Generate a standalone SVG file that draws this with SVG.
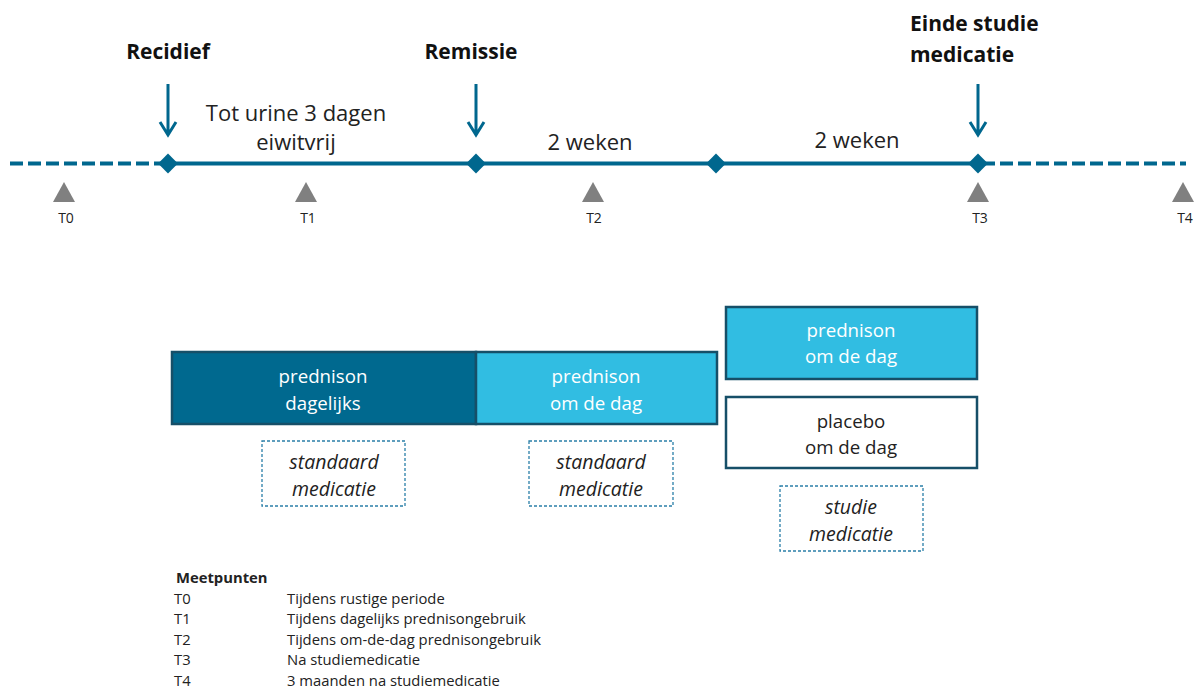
<svg xmlns="http://www.w3.org/2000/svg" width="1196" height="690" viewBox="0 0 1196 690">
<style>
text{font-family:"Open Sans","Noto Sans","Liberation Sans",sans-serif;}
.evt{font-size:21px;font-weight:bold;fill:#111;text-anchor:middle;}
.evl{font-size:21px;font-weight:bold;fill:#111;}
.dur{font-size:22px;fill:#222;text-anchor:middle;}
.tl{font-size:14px;fill:#222;text-anchor:middle;}
.bx{font-size:18.7px;text-anchor:middle;}
.w{fill:#fff;}
.k{fill:#222;}
.it{font-size:19.5px;font-style:italic;fill:#222;text-anchor:middle;}
.lg{font-size:14.8px;fill:#222;}
.line{stroke:#00678E;stroke-width:4;fill:none;}
.dash{stroke:#00678E;stroke-width:4;fill:none;stroke-dasharray:13 5;}
.arr{stroke:#00678E;stroke-width:3;fill:none;}
.dia{fill:#00678E;}
.tri{fill:#808080;}
.dark{fill:#00698F;stroke:#164F68;stroke-width:2.5;}
.light{fill:#31BDE2;stroke:#164F68;stroke-width:2.5;}
.white{fill:#fff;stroke:#164F68;stroke-width:2.5;}
.dbox{fill:#fff;stroke:#2A7FA8;stroke-width:1.3;stroke-dasharray:3 2;}
</style>
<g id="connectors">
<line class="dash" x1="10" y1="163.5" x2="168" y2="163.5"/>
<line class="line" x1="168" y1="163.5" x2="978" y2="163.5"/>
<line class="dash" x1="982" y1="163.5" x2="1186" y2="163.5"/>
<path class="arr" d="M168,84 V135 M160,122 L168,135 L176,122"/>
<path class="arr" d="M476,84 V135 M468,122 L476,135 L484,122"/>
<path class="arr" d="M978,84 V135 M970,122 L978,135 L986,122"/>
</g>
<g id="diamonds">
<rect class="dia" x="161" y="156.5" width="14" height="14" transform="rotate(45 168 163.5)"/>
<rect class="dia" x="469" y="156.5" width="14" height="14" transform="rotate(45 476 163.5)"/>
<rect class="dia" x="709" y="156.5" width="14" height="14" transform="rotate(45 716 163.5)"/>
<rect class="dia" x="971" y="156.5" width="14" height="14" transform="rotate(45 978 163.5)"/>
</g>
<g id="events">
<text class="evt" x="168" y="59">Recidief</text>
<text class="evt" x="471" y="59">Remissie</text>
<text class="evl" x="910" y="31">Einde studie</text>
<text class="evl" x="910" y="62">medicatie</text>
<text class="dur" x="296" y="121">Tot urine 3 dagen</text>
<text class="dur" x="296" y="150">eiwitvrij</text>
<text class="dur" x="590" y="150">2 weken</text>
<text class="dur" x="857" y="148">2 weken</text>
</g>
<g id="timepoints">
<path class="tri" d="M53,202 L64,182 L75,202 Z"/>
<path class="tri" d="M295,202 L306,182 L317,202 Z"/>
<path class="tri" d="M582,202 L593,182 L604,202 Z"/>
<path class="tri" d="M967,202 L978,182 L989,202 Z"/>
<path class="tri" d="M1172,202 L1183,182 L1194,202 Z"/>
<text class="tl" x="66" y="223">T0</text>
<text class="tl" x="308" y="223">T1</text>
<text class="tl" x="594" y="223">T2</text>
<text class="tl" x="980" y="223">T3</text>
<text class="tl" x="1185" y="223">T4</text>
</g>
<g id="box-dagelijks">
<rect class="dark" x="172" y="352" width="304" height="72"/>
<text class="bx w" x="323" y="383">prednison</text>
<text class="bx w" x="323" y="410">dagelijks</text>
</g>
<g id="box-omdedag1">
<rect class="light" x="476" y="352" width="241" height="72"/>
<text class="bx w" x="596" y="383">prednison</text>
<text class="bx w" x="596" y="410">om de dag</text>
</g>
<g id="box-omdedag2">
<rect class="light" x="726" y="307" width="251" height="72"/>
<text class="bx w" x="851" y="337">prednison</text>
<text class="bx w" x="851" y="363">om de dag</text>
</g>
<g id="box-placebo">
<rect class="white" x="726" y="397" width="251" height="71"/>
<text class="bx k" x="851" y="428">placebo</text>
<text class="bx k" x="851" y="454">om de dag</text>
</g>
<g id="std1">
<rect class="dbox" x="262" y="441" width="143" height="65"/>
<text class="it" x="334" y="469">standaard</text>
<text class="it" x="334" y="496">medicatie</text>
</g>
<g id="std2">
<rect class="dbox" x="529" y="441" width="144" height="65"/>
<text class="it" x="601" y="469">standaard</text>
<text class="it" x="601" y="496">medicatie</text>
</g>
<g id="studie">
<rect class="dbox" x="780" y="486" width="143" height="65"/>
<text class="it" x="851" y="514">studie</text>
<text class="it" x="851" y="541">medicatie</text>
</g>
<g id="legend">
<text class="lg" x="176" y="583" font-weight="bold">Meetpunten</text>
<text class="lg" x="174" y="604">T0</text><text class="lg" x="287" y="604">Tijdens rustige periode</text>
<text class="lg" x="174" y="624">T1</text><text class="lg" x="287" y="624">Tijdens dagelijks prednisongebruik</text>
<text class="lg" x="174" y="645">T2</text><text class="lg" x="287" y="645">Tijdens om-de-dag prednisongebruik</text>
<text class="lg" x="174" y="665">T3</text><text class="lg" x="287" y="665">Na studiemedicatie</text>
<text class="lg" x="174" y="686">T4</text><text class="lg" x="287" y="686">3 maanden na studiemedicatie</text>
</g>
</svg>
